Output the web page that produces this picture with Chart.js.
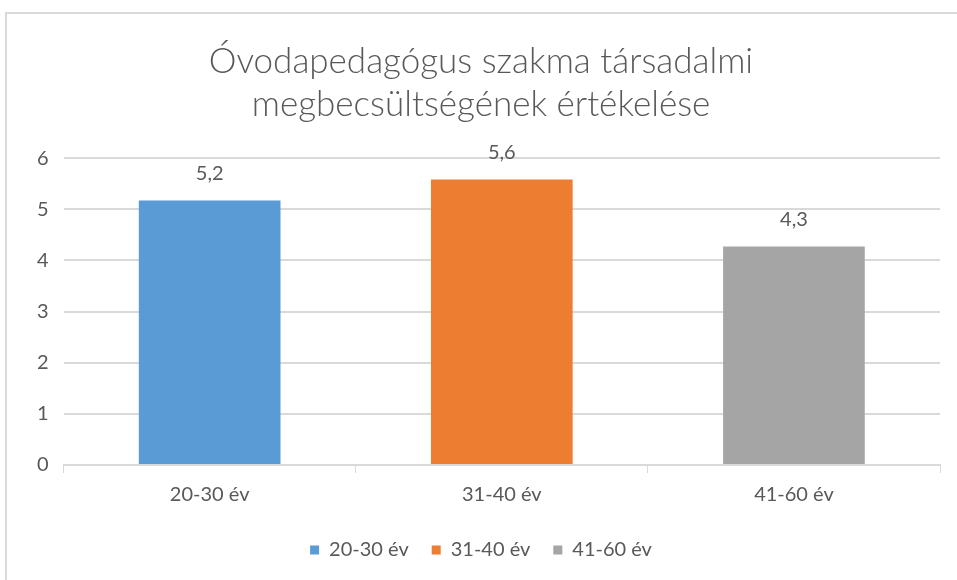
<!DOCTYPE html>
<html>
<head>
<meta charset="utf-8">
<script src="https://cdn.jsdelivr.net/npm/chart.js@4"></script>
<style>
  html, body { margin: 0; padding: 0; overflow: hidden; background: #fff; }
  #frame {
    position: absolute; left: 5px; top: 12px; width: 1000px; height: 700px;
    border-left: 2px solid #d9d9d9; border-top: 2px solid #d9d9d9;
  }
  #wrap { position: absolute; left: 0; top: 0; width: 957px; height: 580px; }
</style>
</head>
<body>
<div id="frame"></div>
<div id="wrap"><canvas id="chart"></canvas></div>
<script>
// Age groups and average ratings
const categories = ['20-30 év', '31-40 év', '41-60 év'];
const ratings = [5.17, 5.58, 4.27];
const barColors = ['#5b9bd5', '#ed7d31', '#a5a5a5'];
const titleLines = ['Óvodapedagógus szakma társadalmi', 'megbecsültségének értékelése'];

const FONT = 'Lato, "Open Sans", sans-serif';
const TEXT_COLOR = '#595959';

// Draw the value above each bar, with a decimal comma
const valueLabels = {
  id: 'valueLabels',
  afterDatasetsDraw(chart) {
    const { ctx } = chart;
    const meta = chart.getDatasetMeta(0);
    ctx.save();
    ctx.font = '20px ' + FONT;
    ctx.fillStyle = TEXT_COLOR;
    ctx.textAlign = 'center';
    ctx.textBaseline = 'middle';
    meta.data.forEach((bar, i) => {
      const text = ratings[i].toFixed(1).replace('.', ',');
      ctx.fillText(text, bar.x, bar.y - 27);
    });
    ctx.restore();
  }
};

new Chart(document.getElementById('chart'), {
  type: 'bar',
  data: {
    labels: categories,
    datasets: [{
      data: ratings,
      backgroundColor: barColors,
      borderWidth: 0,
      barPercentage: 0.485,
      categoryPercentage: 1
    }]
  },
  plugins: [valueLabels],
  options: {
    responsive: true,
    maintainAspectRatio: false,
    animation: false,
    layout: {
      padding: { left: 22, right: 17, top: 40, bottom: 10 }
    },
    plugins: {
      title: {
        display: true,
        text: titleLines,
        color: TEXT_COLOR,
        font: { family: FONT, size: 35, weight: '300', lineHeight: 1.23 },
        padding: { top: 0, bottom: 32 }
      },
      legend: {
        position: 'bottom',
        labels: {
          generateLabels: () => categories.map((c, i) => ({
            text: c,
            fillStyle: barColors[i],
            strokeStyle: barColors[i],
            lineWidth: 0,
            fontColor: TEXT_COLOR
          })),
          boxWidth: 9,
          boxHeight: 9,
          padding: 23,
          color: TEXT_COLOR,
          font: { family: FONT, size: 20 }
        }
      },
      tooltip: { enabled: false }
    },
    scales: {
      x: {
        grid: {
          offset: true,
          drawOnChartArea: false,
          drawTicks: true,
          tickLength: 8,
          color: '#d9d9d9'
        },
        border: { color: '#d9d9d9', width: 2 },
        ticks: {
          color: TEXT_COLOR,
          font: { family: FONT, size: 20 },
          padding: 10
        }
      },
      y: {
        min: 0,
        max: 6,
        ticks: {
          stepSize: 1,
          color: TEXT_COLOR,
          font: { family: FONT, size: 20 },
          padding: 15
        },
        grid: { color: '#d9d9d9', lineWidth: 2, drawTicks: false },
        border: { display: false }
      }
    }
  }
});
</script>
</body>
</html>
